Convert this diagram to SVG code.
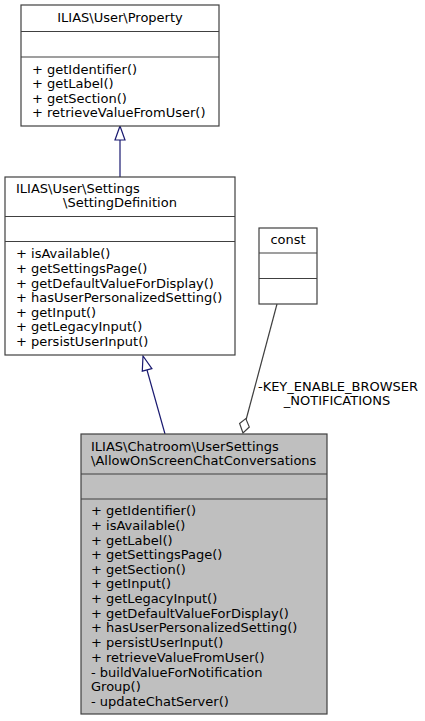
<svg xmlns="http://www.w3.org/2000/svg" width="425" height="721" viewBox="0 0 425 721">
<style>
.box{fill:#ffffff;stroke:#404040;stroke-width:1.2}
.cur{fill:#bfbfbf;stroke:#404040;stroke-width:1.2}
.sep{stroke:#404040;stroke-width:1.2}
text{font-family:"DejaVu Sans","Liberation Sans",sans-serif;font-size:13px;fill:#000}
.mid{text-anchor:middle}
.inh{stroke:#191970;stroke-width:1.2;fill:none}
.agg{stroke:#404040;stroke-width:1.2;fill:none}
</style>
<rect width="425" height="721" fill="#ffffff"/>
<g id="connectors">
<line class="inh" x1="120" y1="177" x2="120" y2="140"/>
<polygon points="120,126 115,140 125,140" fill="#ffffff" stroke="#191970" stroke-width="1.2"/>
<line class="inh" x1="165" y1="434" x2="147" y2="370"/>
<polygon points="143,356 142.3,371.2 151.9,368.6" fill="#ffffff" stroke="#191970" stroke-width="1.2"/>
<line class="agg" x1="277" y1="304" x2="246" y2="420"/>
<polygon points="243,433 239.6,423.5 245.8,418.6 249.3,427" fill="#ffffff" stroke="#404040" stroke-width="1.2"/>
<text class="mid" x="338" y="390.5">-KEY_ENABLE_BROWSER</text>
<text class="mid" x="337" y="404.5">_NOTIFICATIONS</text>
</g>
<g id="node-property">
<rect class="box" x="21" y="5" width="198" height="121"/>
<line class="sep" x1="21" y1="31.5" x2="219" y2="31.5"/>
<line class="sep" x1="21" y1="57" x2="219" y2="57"/>
<text class="mid" x="120" y="21.5">ILIAS\User\Property</text>
<text x="32" y="74">+ getIdentifier()</text>
<text x="32" y="88">+ getLabel()</text>
<text x="32" y="102.5">+ getSection()</text>
<text x="32" y="117">+ retrieveValueFromUser()</text>
</g>
<g id="node-settingdefinition">
<rect class="box" x="5" y="177" width="230" height="178"/>
<line class="sep" x1="5" y1="216.5" x2="235" y2="216.5"/>
<line class="sep" x1="5" y1="241.5" x2="235" y2="241.5"/>
<text x="16" y="192.5">ILIAS\User\Settings</text>
<text x="63" y="206.5">\SettingDefinition</text>
<text x="16" y="258">+ isAvailable()</text>
<text x="16" y="273">+ getSettingsPage()</text>
<text x="16" y="287.5">+ getDefaultValueForDisplay()</text>
<text x="16" y="302">+ hasUserPersonalizedSetting()</text>
<text x="16" y="317">+ getInput()</text>
<text x="16" y="331">+ getLegacyInput()</text>
<text x="16" y="346">+ persistUserInput()</text>
</g>
<g id="node-const">
<rect class="box" x="259" y="228" width="58" height="76"/>
<line class="sep" x1="259" y1="253" x2="317" y2="253"/>
<line class="sep" x1="259" y1="278.5" x2="317" y2="278.5"/>
<text class="mid" x="288" y="243.5">const</text>
</g>
<g id="node-allowonscreen">
<rect class="cur" x="81" y="434" width="246" height="280"/>
<line class="sep" x1="81" y1="474" x2="327" y2="474"/>
<line class="sep" x1="81" y1="499" x2="327" y2="499"/>
<text x="91" y="450.5">ILIAS\Chatroom\UserSettings</text>
<text x="91" y="464.5">\AllowOnScreenChatConversations</text>
<text x="91" y="514.5">+ getIdentifier()</text>
<text x="91" y="529.5">+ isAvailable()</text>
<text x="91" y="544.5">+ getLabel()</text>
<text x="91" y="559">+ getSettingsPage()</text>
<text x="91" y="573.5">+ getSection()</text>
<text x="91" y="588">+ getInput()</text>
<text x="91" y="602.5">+ getLegacyInput()</text>
<text x="91" y="617.5">+ getDefaultValueForDisplay()</text>
<text x="91" y="632">+ hasUserPersonalizedSetting()</text>
<text x="91" y="647">+ persistUserInput()</text>
<text x="91" y="661.5">+ retrieveValueFromUser()</text>
<text x="91" y="676.5">- buildValueForNotification</text>
<text x="91" y="691">Group()</text>
<text x="91" y="705.5">- updateChatServer()</text>
</g>
</svg>
